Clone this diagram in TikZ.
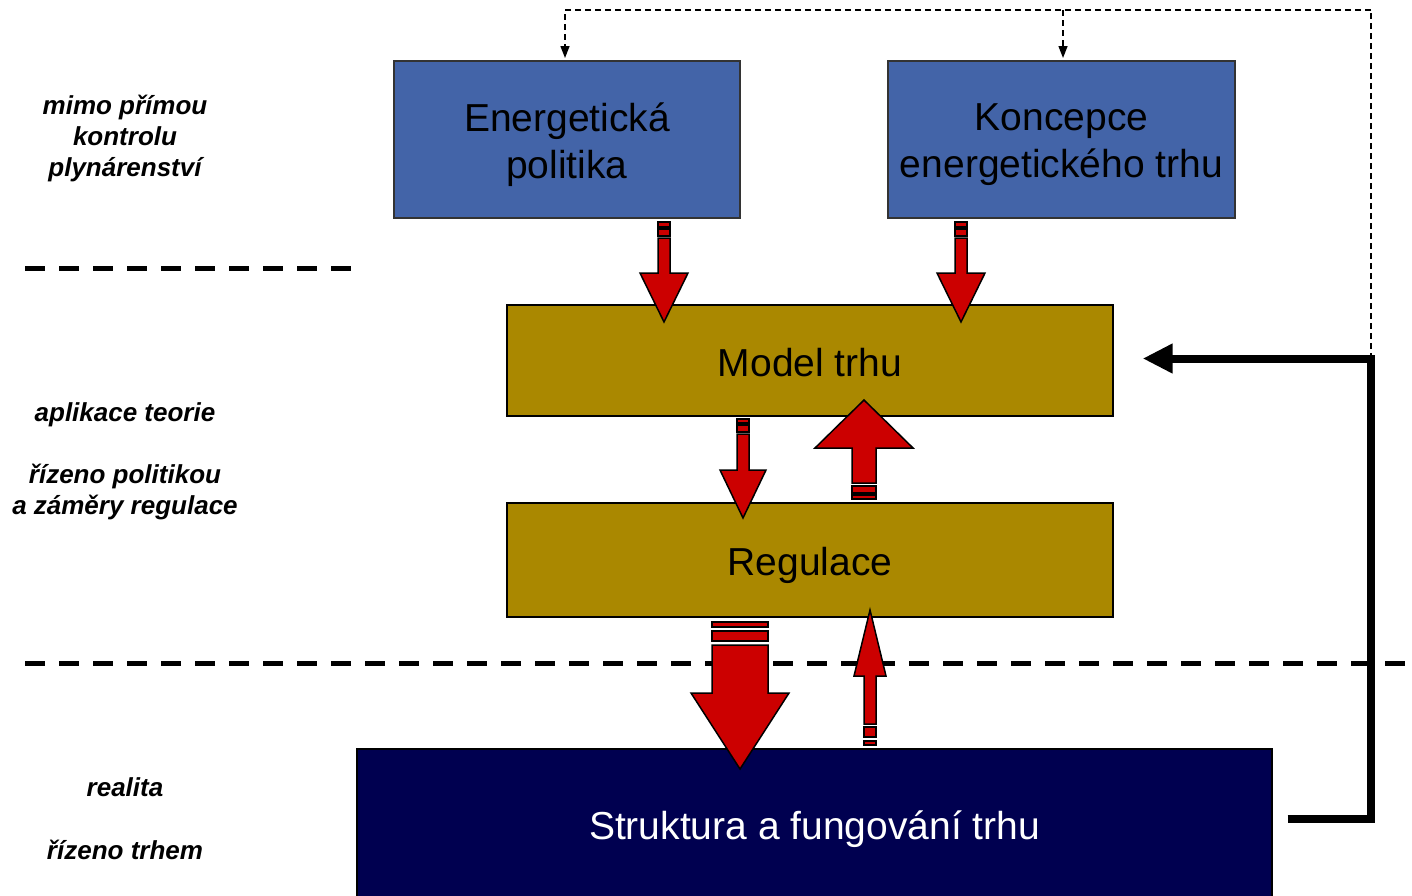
\documentclass[tikz,border=0pt]{standalone}
\usepackage{fontspec}
\setmainfont{Liberation Sans}
\usetikzlibrary{arrows.meta}
\definecolor{boxblue}{RGB}{67,100,168}
\definecolor{boxolive}{RGB}{170,136,0}
\definecolor{boxnavy}{RGB}{0,0,80}
\definecolor{arrred}{RGB}{204,0,0}
\tikzset{
  boxtext/.style={align=center, font=\fontsize{19.5}{23.5}\selectfont, inner sep=0pt},
  bluebox/.style={draw=black!80, line width=0.7pt, fill=boxblue, minimum width=173pt, minimum height=78.5pt, inner sep=0pt},
  olivebox/.style={draw=black, line width=0.7pt, fill=boxolive, minimum width=303pt, inner sep=0pt},
  navybox/.style={draw=black, line width=0.7pt, fill=boxnavy, minimum width=457.5pt, minimum height=75.5pt, inner sep=0pt},
  sidelabel/.style={align=center, font=\fontsize{13}{15.5}\selectfont\bfseries\itshape, inner sep=0pt},
  redarr/.style={draw=black, line width=0.75pt, fill=arrred, line join=miter},
  sepline/.style={line width=2.5pt, dash pattern=on 10pt off 7pt},
  thindash/.style={line width=0.7pt, dash pattern=on 3pt off 2pt},
  fbline/.style={line width=4pt, line join=miter},
}
\newcommand\arrbody[6]{%
  \draw[redarr] (#1,#2) -- ({#1+#4},#3) -- ({#1+#5},#3) -- ({#1+#5},#6) -- ({#1-#5},#6) -- ({#1-#5},#3) -- ({#1-#4},#3) -- cycle;}
\newcommand\stripe[4]{\draw[redarr] (#1,#2) rectangle (#3,#4);}
\begin{document}
\begin{tikzpicture}[x=0.5pt,y=-0.5pt]
\useasboundingbox (0,0) rectangle (1412,895);

% separators
\draw[sepline] (25,268) -- (355,268);
\draw[sepline] (25,663) -- (1420,663);

% boxes
\node[bluebox] (ep) at (567,139.5) {};
\node[bluebox, minimum width=173.5pt] (ke) at (1061.5,139.5) {};
\node[olivebox, minimum height=55.5pt] (mt) at (810,360.5) {};
\node[olivebox, minimum height=57pt] (rg) at (810,560) {};
\node[navybox] (st) at (814.5,824.5) {};
\node[boxtext] (ept) at ([yshift=-2.5pt]ep.center) {Energetická\\politika};
\node[boxtext] (ket) at ([yshift=-2.5pt]ke.center) {Koncepce\\energetického trhu};
\node[boxtext] (mtt) at ([yshift=-1pt]mt.center) {Model trhu};
\node[boxtext] (rgt) at ([yshift=-2.5pt]rg.center) {Regulace};
\node[boxtext, text=white] (stt) at ([yshift=-2.5pt]st.center) {Struktura a fungování trhu};

% side labels
\node[sidelabel] (l1) at (125,138) {mimo přímou\\kontrolu\\plynárenství};
\node[sidelabel] (l2) at (125,414.5) {aplikace teorie};
\node[sidelabel] (l3) at (125,492) {řízeno politikou\\a záměry regulace};
\node[sidelabel] (l4) at (125,787) {realita};
\node[sidelabel] (l5) at (125,850) {řízeno trhem};

% feedback loop
\coordinate (fbA) at (1371,819);
\coordinate (fbB) at (1371,358.5);
\coordinate (top) at (1371,10);
\draw[thindash] (fbB) -- (top);
\draw[thindash, -{Triangle[length=6pt,width=4.5pt]}, shorten >=1.5pt] (top) -- (top -| 565,0) -- (565,61);
\draw[thindash, -{Triangle[length=6pt,width=4.5pt]}, shorten >=1.5pt] (top -| 1063,0) -- (1063,61);
\draw[fbline, shorten <=7.5pt, shorten >=14.5pt, -{Triangle[length=15pt,width=14pt]}] (st.east |- fbA) -- (fbA) -- (fbB) -- (mt.east |- fbB);

% red striped arrows
% 1 Energeticka -> Model
\arrbody{664}{322}{273}{24}{6}{238}
\stripe{658}{229}{670}{236}
\stripe{658}{222}{670}{227}
% 2 Koncepce -> Model
\arrbody{961}{322}{273}{24}{6}{238}
\stripe{955}{229}{967}{236}
\stripe{955}{222}{967}{227}
% 3 Model -> Regulace
\arrbody{743}{518}{470}{23}{6}{434}
\stripe{737}{425}{749}{432}
\stripe{737}{419}{749}{423}
% 4 Regulace -> Model (big up)
\arrbody{864}{400}{448}{49}{12}{483}
\stripe{852}{486}{876}{493}
\stripe{852}{495}{876}{499}
% 5 Regulace -> Struktura (big down)
\arrbody{740}{769}{693}{49}{28}{645}
\stripe{712}{631}{768}{641}
\stripe{712}{622}{768}{627}
% 6 Struktura -> Regulace (small up)
\arrbody{870}{610}{676}{16}{6}{724}
\stripe{864}{727}{876}{737}
\stripe{864}{741}{876}{745}
\end{tikzpicture}
\end{document}
